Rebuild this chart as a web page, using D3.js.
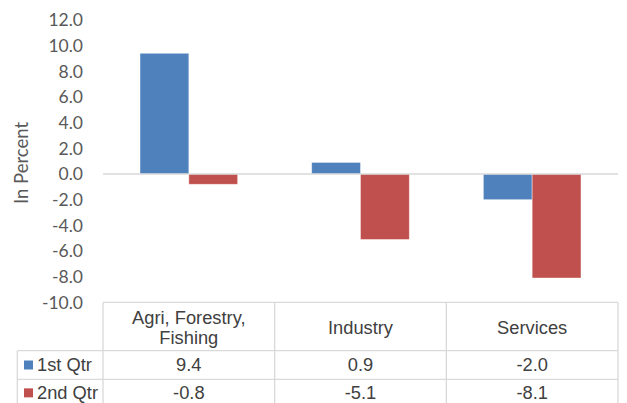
<!DOCTYPE html>
<html><head><meta charset="utf-8">
<script src="https://cdn.jsdelivr.net/npm/d3@7"></script>
<style>body{margin:0;background:#fff;}svg{display:block;}</style>
</head><body>
<script>
const categories = ["Agri, Forestry, Fishing", "Industry", "Services"];
const categoryLines = [["Agri, Forestry,", "Fishing"], ["Industry"], ["Services"]];
const seriesNames = ["1st Qtr", "2nd Qtr"];
const q1 = [9.4, 0.9, -2.0];
const q2 = [-0.8, -5.1, -8.1];
const tickValues = [-10, -8, -6, -4, -2, 0, 2, 4, 6, 8, 10, 12];
const colors = ["#4F81BD", "#C0504D"];

const W = 627, H = 403;
const svg = d3.select("body").append("svg").attr("width", W).attr("height", H);

const plotL = 103, plotR = 618;
const y = d3.scaleLinear().domain([-10, 12]).range([302.4, 19.9]);
const x0 = d3.scaleBand().domain(categories).range([plotL, plotR]).paddingInner(0).paddingOuter(0);
const barW = 48.8;
const x1 = d3.scaleBand().domain(seriesNames).range([0, barW * 2]);

// y axis
const yAxis = d3.axisLeft(y).tickValues(tickValues).tickSize(0).tickPadding(0).tickFormat(d3.format(".1f"));
const ga = svg.append("g").attr("transform", "translate(83,0)").call(yAxis);
ga.select(".domain").remove();
ga.selectAll("text").attr("font-family", "Lato, 'Carlito', sans-serif").attr("font-size", 17.5).attr("fill", "#595959").attr("dy", "0.34em")
  .text(d => d3.format(".1f")(d).replace("−", "-"));

// axis title
svg.append("text").attr("transform", "translate(28,163) rotate(-90)")
  .attr("text-anchor", "middle").attr("font-family", "Lato, sans-serif").attr("font-size", 18.5)
  .attr("fill", "#595959").text("In Percent");

// bars
const series = [q1, q2];
categories.forEach((c, i) => {
  const gx = x0(c) + (x0.bandwidth() - barW * 2) / 2;
  seriesNames.forEach((s, j) => {
    const v = series[j][i];
    svg.append("rect")
      .attr("x", gx + x1(s)).attr("width", x1.bandwidth())
      .attr("y", y(Math.max(0, v))).attr("height", Math.abs(y(v) - y(0)))
      .attr("fill", colors[j]).attr("stroke", "#fff").attr("stroke-opacity", 0.5).attr("stroke-width", 0.8);
  });
});

// zero line
svg.append("line").attr("x1", plotL).attr("x2", plotR).attr("y1", y(0)).attr("y2", y(0))
  .attr("stroke", "#d9d9d9").attr("stroke-width", 1.6);

// data table
const gridC = "#d9d9d9";
const tTop = y(-10), hBot = 350.7, r1Bot = 379.3, r2Bot = 408;
const tLeft = 17.3;
const t = svg.append("g");
const ln = (x1_, y1_, x2_, y2_) => t.append("line").attr("x1", x1_).attr("y1", y1_).attr("x2", x2_).attr("y2", y2_).attr("stroke", gridC).attr("stroke-width", 1.3);
ln(plotL, tTop, plotR, tTop);
ln(tLeft, hBot, plotR, hBot);
ln(tLeft, r1Bot, plotR, r1Bot);
ln(tLeft, hBot, tLeft, r2Bot);
ln(plotL, tTop, plotL, r2Bot);
categories.forEach(c => { ln(x0(c) + x0.bandwidth(), tTop, x0(c) + x0.bandwidth(), r2Bot); });

const font = "'Liberation Sans', Arial, sans-serif";
const fs = 18.3;
const txtC = "#404040";
categories.forEach((c, i) => {
  const lines = categoryLines[i];
  const cy = (tTop + hBot) / 2 + 1.5;
  lines.forEach((l, k) => {
    t.append("text").attr("x", x0(c) + x0.bandwidth() / 2)
      .attr("y", cy + (k - (lines.length - 1) / 2) * 20).attr("dy", "0.35em")
      .attr("text-anchor", "middle").attr("font-family", font).attr("font-size", fs).attr("fill", txtC).text(l);
  });
});
const rowMid = [(hBot + r1Bot) / 2, (r1Bot + r2Bot) / 2 - 0.8];
seriesNames.forEach((s, j) => {
  t.append("rect").attr("x", 24).attr("y", rowMid[j] - 4.5).attr("width", 9).attr("height", 9).attr("fill", colors[j]);
  t.append("text").attr("x", 37).attr("y", rowMid[j]).attr("dy", "0.35em")
    .attr("font-family", font).attr("font-size", fs).attr("fill", txtC).text(s);
  categories.forEach((c, i) => {
    t.append("text").attr("x", x0(c) + x0.bandwidth() / 2).attr("y", rowMid[j]).attr("dy", "0.35em")
      .attr("text-anchor", "middle").attr("font-family", font).attr("font-size", fs).attr("fill", txtC)
      .text(d3.format(".1f")(series[j][i]).replace("−", "-"));
  });
});
</script>
</body></html>
